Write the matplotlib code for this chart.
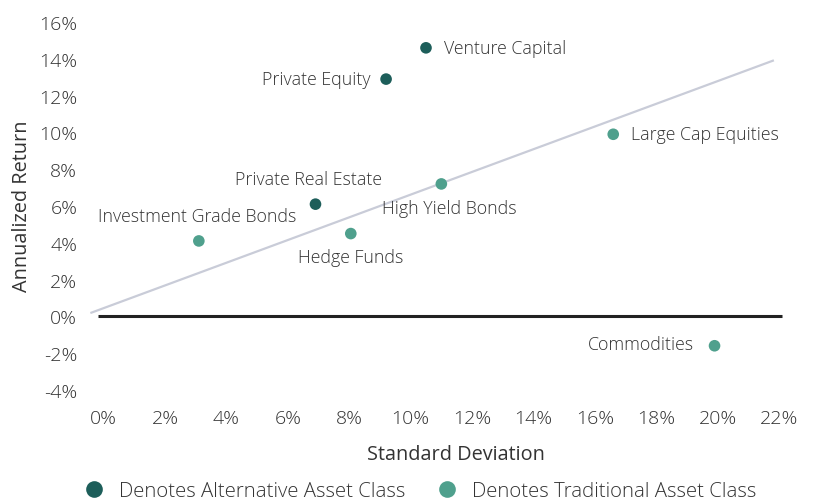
import matplotlib.pyplot as plt
from matplotlib.lines import Line2D
from matplotlib.ticker import FuncFormatter

# data
names = ['Venture Capital', 'Private Equity', 'Large Cap Equities', 'High Yield Bonds',
         'Private Real Estate', 'Hedge Funds', 'Investment Grade Bonds', 'Commodities']
std_dev = [10.5, 9.2, 16.6, 11.0, 6.9, 8.05, 3.1, 19.9]
returns = [14.6, 12.9, 9.9, 7.2, 6.1, 4.5, 4.1, -1.6]
alternative = [True, True, False, False, True, False, False, False]
trend_x = [-0.4, 21.8]
trend_y = [0.2, 13.9]
x_ticks = list(range(0, 23, 2))
y_ticks = list(range(-4, 17, 2))

dark = '#1d5e5a'
light = '#4fa08d'
txt = '#333333'

plt.rcParams['font.family'] = ['Open Sans', 'DejaVu Sans']
plt.rcParams['font.weight'] = 'light'

fig = plt.figure(figsize=(8.17, 5.02), dpi=100)
ax = fig.add_axes([0.110, 0.203, 0.851, 0.773])

ax.plot(trend_x, trend_y, color='#c9ccd8', lw=1.6, zorder=1)
ax.hlines(0, -0.2, 22.1, color='#222222', lw=2.2, zorder=2)

colors = [dark if a else light for a in alternative]
ax.scatter(std_dev, returns, s=70, c=colors, zorder=3, linewidths=0)

# label offsets in points, alignment
offsets = {
    'Venture Capital': ((13, 0), 'left', 'center'),
    'Private Equity': ((-11, 0), 'right', 'center'),
    'Large Cap Equities': ((13, 0), 'left', 'center'),
    'High Yield Bonds': ((6, -17), 'center', 'center'),
    'Private Real Estate': ((-5, 18), 'center', 'center'),
    'Hedge Funds': ((0, -17), 'center', 'center'),
    'Investment Grade Bonds': ((-1, 18), 'center', 'center'),
    'Commodities': ((-15, 1), 'right', 'center'),
}
for n, x, y in zip(names, std_dev, returns):
    off, ha, va = offsets[n]
    ax.annotate(n, (x, y), xytext=off, textcoords='offset points',
                ha=ha, va=va, fontsize=12.8, color=txt)

ax.set_xlim(-0.45, 22.2)
ax.set_ylim(-4.5, 16.6)
ax.set_xticks(x_ticks)
ax.set_yticks(y_ticks)
pct = FuncFormatter(lambda v, p: '%d%%' % v)
ax.xaxis.set_major_formatter(pct)
ax.yaxis.set_major_formatter(pct)
ax.tick_params(length=0, labelsize=14, labelcolor=txt)
ax.tick_params(axis='y', pad=9)
ax.tick_params(axis='x', pad=7)
for s in ax.spines.values():
    s.set_visible(False)

ax.set_xlabel('Standard Deviation', fontsize=14.3, color=txt)
ax.xaxis.set_label_coords(0.527, -0.115)
ax.set_ylabel('Annualized Return', fontsize=14.3, color=txt)
ax.yaxis.set_label_coords(-0.083, 0.5)

handles = [Line2D([], [], marker='o', ls='', ms=12, color=dark, markeredgewidth=0),
           Line2D([], [], marker='o', ls='', ms=12, color=light, markeredgewidth=0)]
fig.legend(handles, ['Denotes Alternative Asset Class', 'Denotes Traditional Asset Class'],
           loc='lower center', bbox_to_anchor=(0.508, -0.037), ncol=2, frameon=False,
           fontsize=14.7, handletextpad=0.2, columnspacing=1.05, labelcolor=txt)

fig.savefig('out.png', dpi=100)
